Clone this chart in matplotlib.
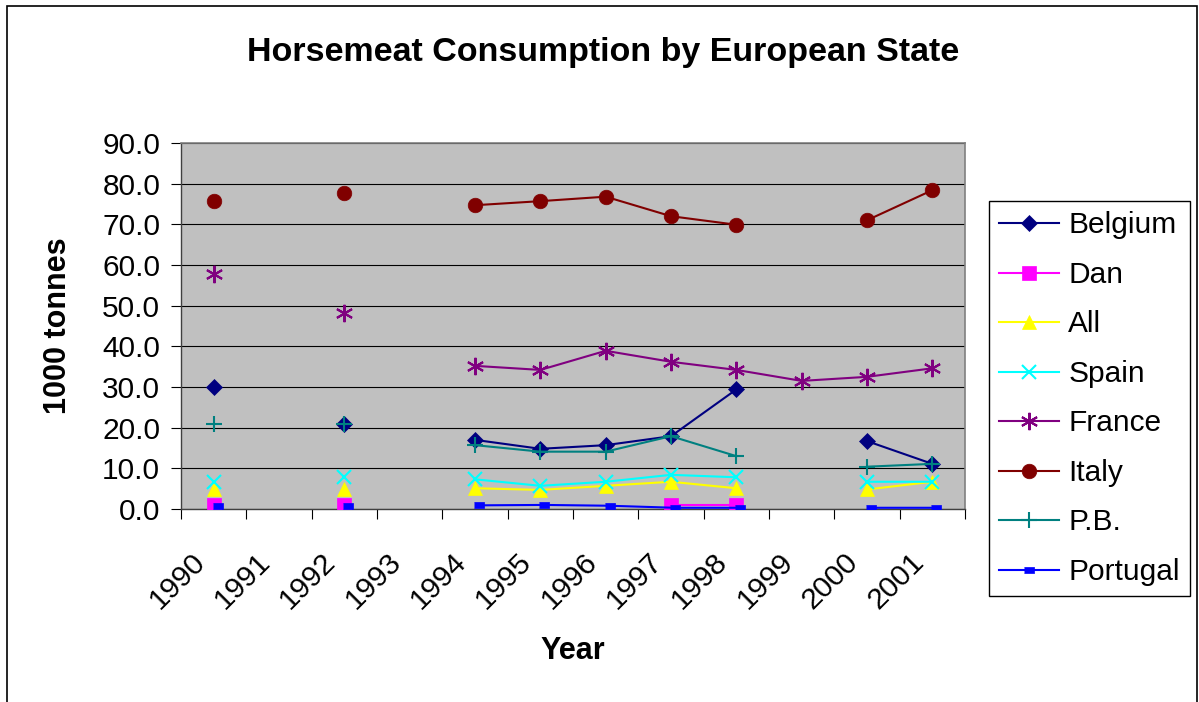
import numpy as np
import matplotlib
matplotlib.use("Agg")
import matplotlib.pyplot as plt
from matplotlib.patches import Rectangle
from matplotlib.transforms import ScaledTranslation

nan = np.nan

years = ["1990", "1991", "1992", "1993", "1994", "1995",
         "1996", "1997", "1998", "1999", "2000", "2001"]

belgium = [30.0, nan, 20.9, nan, 17.0, 14.8, 15.7, 17.9, 29.4, nan, 16.7, 11.1]
dan = [1.0, nan, 1.0, nan, nan, nan, nan, 1.0, 1.0, nan, nan, nan]
all_ = [5.0, nan, 5.0, nan, 5.1, 4.7, 5.7, 6.7, 5.1, nan, 4.8, 6.7]
spain = [6.7, nan, 7.8, nan, 7.3, 5.7, 6.7, 8.4, 7.8, nan, 6.7, 6.7]
france = [57.8, nan, 48.3, nan, 35.2, 34.2, 38.9, 36.2, 34.2, 31.5, 32.5, 34.6]
italy = [75.7, nan, 77.8, nan, 74.7, 75.7, 76.8, 72.0, 69.9, nan, 71.0, 78.4]
pb = [20.9, nan, 20.9, nan, 15.7, 14.1, 14.1, 17.9, 13.0, nan, 10.4, 11.1]
portugal = [0.8, nan, 0.8, nan, 0.9, 1.0, 0.8, 0.3, 0.3, nan, 0.3, 0.3]

plt.rcParams["font.family"] = ["Liberation Sans", "DejaVu Sans"]

W, H = 1199, 702
fig = plt.figure(figsize=(W / 100, H / 100), dpi=100)
fig.patch.set_facecolor("white")

# plot area in pixels: x 181..965, y 143..509
ax = fig.add_axes([181 / W, 1 - 509 / H, (965 - 181) / W, (509 - 143) / H])
ax.set_facecolor("#C0C0C0")

x = np.arange(len(years))
rect = [(-1, -0.6), (1, -0.6), (1, 0.6), (-1, 0.6)]
series = [
    ("Belgium", belgium, "#000080", "D", 8.5),
    ("Dan", dan, "#FF00FF", "s", 10.5),
    ("All", all_, "#FFFF00", "^", 10.5),
    ("Spain", spain, "#00FFFF", "x", 10),
    ("France", france, "#800080", (6, 2, 0), 12.5),
    ("Italy", italy, "#800000", "o", 10.5),
    ("P.B.", pb, "#008080", "+", 11),
    ("Portugal", portugal, "#0000FF", rect, 7.5),
]
for name, vals, col, mk, ms in series:
    line, = ax.plot(x, vals, color=col, lw=1.5, marker=mk, markersize=ms,
                    markerfacecolor=col, markeredgecolor=col,
                    markeredgewidth=1.5 if mk in ("x", "+", (6, 2, 0)) else 0.5,
                    label=name, zorder=3)
    if name == "Portugal":
        # Excel drew this series a few pixels right of the category centre
        line.set_transform(line.get_transform() +
                           ScaledTranslation(4 / 100, 0, fig.dpi_scale_trans))

ax.set_xlim(-0.5, len(years) - 0.5)
ax.set_ylim(0, 90)
ax.set_yticks(np.arange(0, 91, 10))
ax.set_yticklabels([f"{v:.1f}" for v in np.arange(0, 91, 10)], fontsize=21.5)
ax.yaxis.grid(True, color="black", lw=0.8, zorder=1)
ax.set_axisbelow(True)

ax.set_xticks(x)
ax.set_xticklabels(years, fontsize=21.5, rotation=45, ha="right",
                   rotation_mode="anchor")
ax.set_xticks(np.arange(-0.5, len(years), 1), minor=True)
ax.tick_params(axis="x", which="major", length=0, pad=22)
ax.tick_params(axis="x", which="minor", length=7, width=0.8, direction="out")
ax.tick_params(axis="y", length=7, width=0.8, direction="out", pad=8)
shift = ScaledTranslation(-23 / 100, -8 / 100, fig.dpi_scale_trans)
for lbl in ax.get_xticklabels():
    lbl.set_transform(lbl.get_transform() + shift)

for s in ("top", "right"):
    ax.spines[s].set_color("#808080")
    ax.spines[s].set_linewidth(1.2)
for s in ("left", "bottom"):
    ax.spines[s].set_color("#404040")
    ax.spines[s].set_linewidth(1.0)

fig.text(603 / W, 1 - 53 / H, "Horsemeat Consumption by European State",
         fontsize=24.5, fontweight="bold", ha="center", va="center")
fig.text(573 / W, 1 - 651 / H, "Year", fontsize=22, fontweight="bold",
         ha="center", va="center")
fig.text(58 / W, 1 - 326 / H, "1000 tonnes", fontsize=22, fontweight="bold",
         ha="center", va="center", rotation=90)

leg = ax.legend(loc="upper left", bbox_to_anchor=(989 / W, 1 - 201 / H),
                bbox_transform=fig.transFigure, fontsize=21.5, frameon=True,
                fancybox=False, edgecolor="black", framealpha=1,
                handlelength=2.0, handletextpad=0.3, labelspacing=0.72,
                borderpad=0.35, borderaxespad=0)
leg.get_frame().set_linewidth(1.0)

fig.add_artist(Rectangle((7 / W, -0.05), (1197 - 7) / W, 1.05 - 6 / H,
                         transform=fig.transFigure, fill=False,
                         edgecolor="black", lw=1.2))

fig.savefig("out.png", dpi=100)
